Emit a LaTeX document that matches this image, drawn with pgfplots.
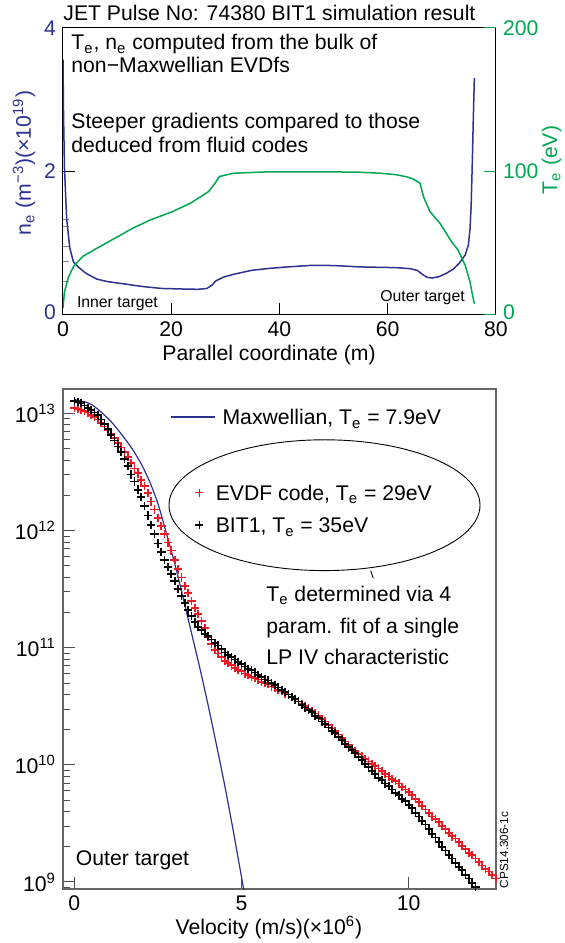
\documentclass[border=0pt]{standalone}
\usepackage{fontspec}
\setmainfont{Liberation Sans}
\usepackage{pgfplots}
\pgfplotsset{compat=1.18}
\definecolor{nblue}{RGB}{46,49,146}
\definecolor{tgreen}{RGB}{0,166,81}
\definecolor{evred}{RGB}{237,28,36}
\newcommand{\fs}{\fontsize{10.6}{12.7}\selectfont}
\newcommand{\fsm}{\fontsize{7.9}{9.5}\selectfont}
\pgfplotsset{plusleg/.style={legend image code/.code={\draw[##1, mark size=2pt, mark options={line width=0.55pt}] plot coordinates {(0pt,0pt)};}}}
\begin{document}
\begin{tikzpicture}[x=0.5pt,y=0.5pt]
\path[use as bounding box] (0,0) rectangle (565,943);
% ---------------- top panel: n_e ----------------
\begin{axis}[at={(31.5pt,314pt)}, anchor=south west, scale only axis,
  width=216.5pt, height=143.5pt,
  xmin=0, xmax=80, ymin=0, ymax=4,
  xtick={0,20,40,60,80}, ytick={0,2,4}, yticklabels={\raisebox{3pt}{0},2,4},
  extra y ticks={0.465,0.744,0.953,1.233,1.326}, extra y tick labels={},
  extra y tick style={major tick length=3pt, tick style={black!50}},
  tick align=inside, xtick pos=bottom, ytick pos=left, major tick length=6pt,
  tick style={black, line width=0.5pt}, axis line style={black, line width=0.5pt},
  ticklabel style={font=\fs}, yticklabel style={text=nblue},
  /pgf/number format/assume math mode=true]
\addplot[nblue, line width=0.75pt] coordinates {
(0,3.56) (0.1,2.8) (0.27,2.05) (0.67,1.35) (1.26,0.93) (1.93,0.74) (2.8,0.67)
(4.26,0.58) (6.26,0.50) (8.25,0.465) (11.6,0.43) (14.9,0.395) (18.2,0.37)
(21.6,0.363) (24.9,0.358) (26.6,0.37) (27.6,0.42) (28.2,0.474) (29.6,0.526)
(31.5,0.567) (34.9,0.623) (38.2,0.65) (41.5,0.67) (45.5,0.69) (48.2,0.693)
(51.5,0.684) (54.8,0.67) (58.2,0.665) (61.5,0.66) (64.2,0.645) (65.5,0.62)
(66.5,0.56) (67.3,0.525) (68.2,0.515) (69.5,0.535) (70.8,0.58) (72.1,0.64)
(73.2,0.72) (74.3,0.835) (74.9,0.975) (75.2,1.2) (75.4,1.5) (75.6,2.05)
(75.8,2.7) (76.0,3.30)};
\end{axis}
% ---------------- top panel: T_e ----------------
\begin{axis}[at={(31.5pt,314pt)}, anchor=south west, scale only axis,
  width=216.5pt, height=143.5pt,
  xmin=0, xmax=80, ymin=0, ymax=200,
  hide x axis, axis y line*=right, ytick={0,100,200}, yticklabels={\raisebox{3pt}{0},100,200},
  tick align=inside, major tick length=6pt,
  ytick style={tgreen, line width=0.5pt}, axis line style={black, line width=0.5pt},
  yticklabel style={text=tgreen, font=\fs},
  /pgf/number format/assume math mode=true]
\addplot[tgreen, line width=0.75pt] coordinates {
(0,5) (0.27,16) (0.93,25.6) (1.93,33.7) (3.6,40.7) (6.26,46.5) (9.6,53.5)
(12.9,60.5) (16.2,66.3) (20.2,72) (23.6,78) (26.9,86) (28.1,91.9) (28.9,96.5)
(31.5,98.8) (38.2,99.8) (48.2,99.8) (54.8,99.5) (58.6,98.8) (61.5,97.8)
(63.5,96.3) (64.7,94.8) (65.96,91.8) (66.6,82.5) (67.8,72) (69.65,63.9)
(71.8,51) (73.0,45.2) (74.3,34.7) (75.2,23.1) (75.6,15) (76.0,7.9)};
\end{axis}
% ---------------- bottom panel ----------------
\begin{axis}[at={(31.5pt,27pt)}, anchor=south west, scale only axis,
  width=216.5pt, height=250pt,
  xmin=-0.34, xmax=12.61, ymin=8.94, ymax=13.21,
  xtick={0,5,10}, ytick={9,10,11,12,13},
  yticklabels={10\textsuperscript{9},10\textsuperscript{10},10\textsuperscript{11},10\textsuperscript{12},10\textsuperscript{13}},
  minor ytick={8.954,
   9.301,9.477,9.602,9.699,9.778,9.845,9.903,9.954,
   10.301,10.477,10.602,10.699,10.778,10.845,10.903,10.954,
   11.301,11.477,11.602,11.699,11.778,11.845,11.903,11.954,
   12.301,12.477,12.602,12.699,12.778,12.845,12.903,12.954},
  tick align=inside, xtick pos=bottom, ytick pos=left,
  major tick length=6pt, minor tick length=3.5pt,
  axis line style={black!60, line width=0.6pt}, tick style={black!70, line width=0.5pt},
  ticklabel style={font=\fs},
  /pgf/number format/assume math mode=true,
  legend style={at={(0.3058,0.815)}, anchor=north west, draw=none, fill=none,
    inner sep=0pt, outer sep=0pt, row sep=5.1pt, column sep=6.2pt, font=\fs,
    nodes={inner sep=0pt, text height=9.5pt, text depth=1.6pt}},
  legend cell align=left]
\addplot[only marks, mark=+, mark size=2.1pt, color=evred, mark options={line width=0.85pt}, plusleg] coordinates {
(0.0,13.05) (0.1,13.04) (0.2,13.03) (0.3,13.02) (0.4,13.01) (0.5,12.99) (0.6,12.97) (0.7,12.95) (0.8,12.92) (0.9,12.89)
(1.0,12.86) (1.1,12.83) (1.2,12.79) (1.3,12.75) (1.4,12.71) (1.5,12.67) (1.6,12.63) (1.7,12.58) (1.8,12.53) (1.9,12.49)
(2.0,12.43) (2.1,12.38) (2.2,12.32) (2.3,12.25) (2.4,12.18) (2.5,12.11) (2.6,12.04) (2.7,11.97) (2.8,11.90) (2.9,11.83)
(3.0,11.75) (3.1,11.67) (3.2,11.60) (3.3,11.53) (3.4,11.47) (3.5,11.40) (3.6,11.34) (3.7,11.29) (3.8,11.23) (3.9,11.17)
(4.0,11.09) (4.1,11.03) (4.2,10.98) (4.3,10.95) (4.4,10.92) (4.5,10.89) (4.6,10.87) (4.7,10.85) (4.8,10.83) (4.9,10.81)
(5.0,10.80) (5.1,10.78) (5.2,10.77) (5.3,10.75) (5.4,10.74) (5.5,10.73) (5.6,10.71) (5.7,10.70) (5.8,10.69) (5.9,10.67)
(6.0,10.66) (6.1,10.64) (6.2,10.63) (6.3,10.61) (6.4,10.60) (6.5,10.58) (6.6,10.56) (6.7,10.54) (6.8,10.52) (6.9,10.50)
(7.0,10.48) (7.1,10.46) (7.2,10.44) (7.3,10.42) (7.4,10.39) (7.5,10.37) (7.6,10.34) (7.7,10.31) (7.8,10.29) (7.9,10.26)
(8.0,10.23) (8.1,10.20) (8.2,10.17) (8.3,10.14) (8.4,10.12) (8.5,10.09) (8.6,10.07) (8.7,10.05) (8.8,10.03) (8.9,10.01)
(9.0,9.99) (9.1,9.97) (9.2,9.95) (9.3,9.92) (9.4,9.90) (9.5,9.88) (9.6,9.86) (9.7,9.84) (9.8,9.81) (9.9,9.79)
(10.0,9.77) (10.1,9.74) (10.2,9.71) (10.3,9.68) (10.4,9.65) (10.5,9.62) (10.6,9.59) (10.7,9.56) (10.8,9.54) (10.9,9.51)
(11.0,9.48) (11.1,9.45) (11.2,9.42) (11.3,9.39) (11.4,9.37) (11.5,9.34) (11.6,9.31) (11.7,9.28) (11.8,9.25) (11.9,9.23)
(12.0,9.20) (12.1,9.17) (12.2,9.14) (12.3,9.11) (12.4,9.09) (12.5,9.06) (12.6,9.03)};
\addlegendentry{EVDF code, T\textsubscript{e} = 29eV}
\addplot[only marks, mark=+, mark size=2.1pt, color=black, mark options={line width=0.85pt}, plusleg] coordinates {
(0.0,13.11) (0.1,13.10) (0.2,13.09) (0.3,13.07) (0.4,13.05) (0.5,13.03) (0.6,13.01) (0.7,12.99) (0.8,12.95) (0.9,12.91)
(1.0,12.87) (1.1,12.82) (1.2,12.77) (1.3,12.72) (1.4,12.67) (1.5,12.61) (1.6,12.55) (1.7,12.48) (1.8,12.42) (1.9,12.35)
(2.0,12.29) (2.1,12.21) (2.2,12.13) (2.3,12.05) (2.4,11.97) (2.5,11.89) (2.6,11.82) (2.7,11.75) (2.8,11.69) (2.9,11.63)
(3.0,11.57) (3.1,11.50) (3.2,11.44) (3.3,11.38) (3.4,11.32) (3.5,11.27) (3.6,11.22) (3.7,11.18) (3.8,11.15) (3.9,11.12)
(4.0,11.10) (4.1,11.07) (4.2,11.04) (4.3,11.02) (4.4,10.99) (4.5,10.96) (4.6,10.94) (4.7,10.92) (4.8,10.90) (4.9,10.88)
(5.0,10.86) (5.1,10.84) (5.2,10.82) (5.3,10.81) (5.4,10.79) (5.5,10.77) (5.6,10.75) (5.7,10.73) (5.8,10.72) (5.9,10.70)
(6.0,10.68) (6.1,10.66) (6.2,10.64) (6.3,10.62) (6.4,10.60) (6.5,10.58) (6.6,10.56) (6.7,10.54) (6.8,10.51) (6.9,10.49)
(7.0,10.47) (7.1,10.45) (7.2,10.42) (7.3,10.40) (7.4,10.37) (7.5,10.35) (7.6,10.32) (7.7,10.29) (7.8,10.27) (7.9,10.24)
(8.0,10.21) (8.1,10.18) (8.2,10.15) (8.3,10.13) (8.4,10.10) (8.5,10.07) (8.6,10.04) (8.7,10.01) (8.8,9.98) (8.9,9.95)
(9.0,9.92) (9.1,9.89) (9.2,9.87) (9.3,9.84) (9.4,9.82) (9.5,9.79) (9.6,9.76) (9.7,9.74) (9.8,9.71) (9.9,9.69)
(10.0,9.66) (10.1,9.63) (10.2,9.59) (10.3,9.56) (10.4,9.52) (10.5,9.49) (10.6,9.45) (10.7,9.41) (10.8,9.38) (10.9,9.34)
(11.0,9.30) (11.1,9.27) (11.2,9.23) (11.3,9.20) (11.4,9.16) (11.5,9.13) (11.6,9.10) (11.7,9.06) (11.8,9.03) (11.9,8.99)
(12.0,8.96)};
\addlegendentry{BIT1, T\textsubscript{e} = 35eV}
\addplot[nblue, line width=0.6pt, smooth, forget plot] coordinates {
(0,13.12) (0.5,13.08) (1.0,12.96) (1.25,12.88) (1.5,12.79) (1.75,12.69) (2.0,12.57)
(2.25,12.42) (2.5,12.23) (2.75,11.98) (3.0,11.72) (3.25,11.43) (3.5,11.13)
(3.75,10.83) (4.0,10.51) (4.25,10.17) (4.5,9.82) (4.75,9.44) (5.0,9.04) (5.1,8.88)};
\end{axis}
% legend for the Maxwellian line
\begin{axis}[at={(31.5pt,27pt)}, anchor=south west, scale only axis,
  width=216.5pt, height=250pt, hide axis, xmin=0, xmax=1, ymin=0, ymax=1,
  legend style={at={(0.248,0.966)}, anchor=north west, draw=none, fill=none,
    inner sep=0pt, outer sep=0pt, column sep=3.5pt, font=\fs,
    nodes={inner sep=0pt, text height=9.5pt, text depth=1.6pt}},
  legend cell align=left,
  legend image code/.code={\draw[#1] (0pt,0pt) -- (22pt,0pt);}]
\addlegendimage{nblue, line width=0.6pt}
\addlegendentry{Maxwellian, T\textsubscript{e} = 7.9eV}
\end{axis}
% ---------------- texts ----------------
\begin{scope}[every node/.style={inner sep=0pt, font=\fs}]
\node[anchor=base west] at (63,922.3) {JET Pulse No: 74380 BIT1 simulation result};
\node[anchor=base west] at (71,893) {T\textsubscript{e}, n\textsubscript{e} computed from the bulk of};
\node[anchor=base west] at (71,870.3) {non−Maxwellian EVDfs};
\node[anchor=base west] at (71,814.7) {Steeper gradients compared to those};
\node[anchor=base west] at (71,790.3) {deduced from fluid codes};
\node[anchor=base west, font=\fsm] at (76.6,635) {Inner target};
\node[anchor=base west, font=\fsm] at (380,641.3) {Outer target};
\node[anchor=base] at (269,582) {Parallel coordinate (m)};
\node[anchor=base, rotate=90, text=nblue] at (31,780) {n\textsubscript{e} (m\textsuperscript{−3})(×10\textsuperscript{19})};
\node[anchor=base, rotate=90, text=tgreen] at (557,783) {T\textsubscript{e} (eV)};
\node[anchor=base] at (269,9) {Velocity (m/s)(×10\textsuperscript{6})};
\node[anchor=base west] at (266,341.5) {T\textsubscript{e} determined via 4};
\node[anchor=base west] at (266,309.7) {param. fit of a single};
\node[anchor=base west] at (266,278) {LP IV characteristic};
\node[anchor=base west] at (75.5,77.4) {Outer target};
\node[anchor=base, rotate=90, font=\fontsize{5.9}{7}\selectfont] at (508,93) {CPS14.306-1c};
\end{scope}
\draw[line width=0.45pt] (324.5,437.8) ellipse [x radius=77.75pt, y radius=32.7pt];
\draw[line width=0.45pt] (370.7,372.3) -- (373.3,364.7);
\end{tikzpicture}
\end{document}
